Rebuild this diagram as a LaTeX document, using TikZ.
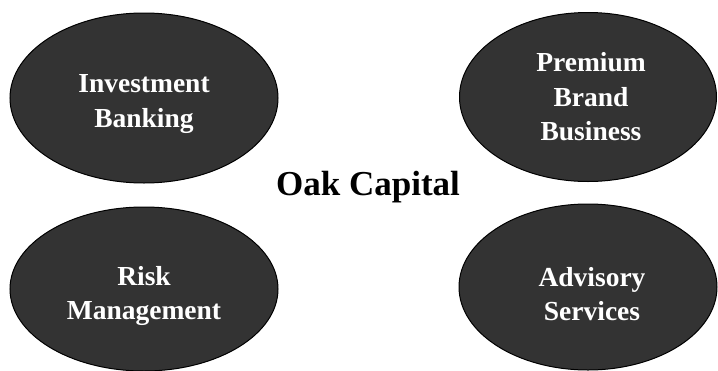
\documentclass[tikz,border=0pt]{standalone}
\usepackage{fontspec}
\setmainfont{Liberation Serif}
\usetikzlibrary{shapes.geometric}
\definecolor{unitgray}{RGB}{51, 51, 51}

\tikzset{
  unit/.style={ellipse, draw=black, line width=1pt, fill=unitgray, inner sep=0pt},
  unittext/.style={text=white, align=center, inner sep=0pt,
    font=\fontsize{27.5}{34.5}\selectfont\bfseries},
  hub/.style={font=\fontsize{35}{40}\selectfont\bfseries, inner sep=0pt}
}

\begin{document}
\begin{tikzpicture}[x=1pt, y=-1pt]
  \useasboundingbox (0,0) rectangle (718,370);
  % business units round the firm
  \node[unit, minimum width=268pt, minimum height=170pt] (ib) at (144,98) {};
  \node[unit, minimum width=257pt, minimum height=169pt] (pb) at (588,97) {};
  \node[unit, minimum width=268pt, minimum height=164pt] (rm) at (144,289) {};
  \node[unit, minimum width=258pt, minimum height=166pt] (as) at (588,287) {};
  % their labels
  \node[unittext] (ibtext) at (144,104) {Investment\\Banking};
  \node[unittext] (pbtext) at (591,97) {Premium\\Brand\\Business};
  \node[unittext] (rmtext) at (144,296) {Risk\\Management};
  \node[unittext] (astext) at (592,294) {Advisory\\Services};
  % the firm itself
  \node[hub] (oak) at (368,187) {Oak Capital};
\end{tikzpicture}
\end{document}
